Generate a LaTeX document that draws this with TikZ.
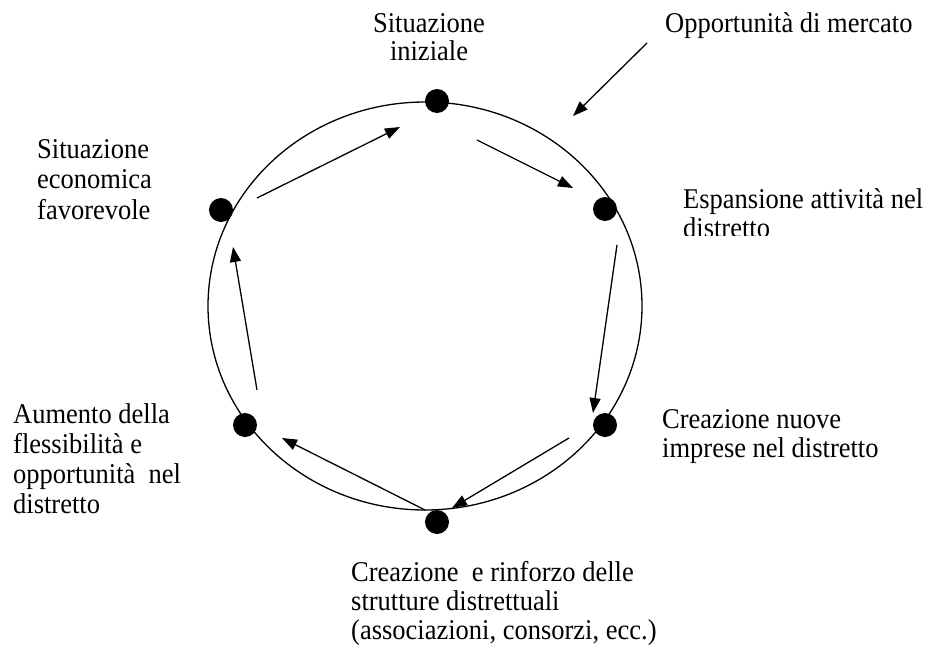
\documentclass[tikz,border=0pt]{standalone}
\usepackage{fontspec}
\usepackage{graphicx}
\setmainfont{Liberation Serif}
\usetikzlibrary{arrows.meta}
\newcommand\mylines[3]{\scalebox{1}[1.08]{\fontsize{26.5}{#1}\selectfont\begin{tabular}[t]{@{}#2@{}}#3\end{tabular}}}
\tikzset{
  dot/.style={circle,fill=black,inner sep=0pt,minimum size=24pt},
  lbl/.style={inner sep=0pt,anchor=base west},
  flow/.style={line width=1.3pt,-{Triangle[length=15pt,width=11pt]}},
  ring/.style={line width=1.3pt}
}
\begin{document}
\begin{tikzpicture}[x=1pt,y=-1pt]
\useasboundingbox (0,0) rectangle (930,664);
\fill[white] (0,0) rectangle (930,664);
% ring
\draw[ring] (425,306) ellipse [x radius=217, y radius=204];
% dots
\node[dot] (top) at (437,101) {};
\node[dot] (ur) at (605,209) {};
\node[dot] (lr) at (605,425) {};
\node[dot] (bot) at (437,522) {};
\node[dot] (ll) at (245,425) {};
\begin{scope}
\clip (209,180) rectangle (260,240);
\node[dot] (ul) at (221,210) {};
\end{scope}
% arrow end points
\coordinate (a1s) at (257,198); \coordinate (a1e) at (400,127);
\coordinate (a2s) at (477,140); \coordinate (a2e) at (573,188);
\coordinate (a3s) at (617,245); \coordinate (a3e) at (593,413);
\coordinate (a4s) at (569,438); \coordinate (a4e) at (452,508);
\coordinate (a5s) at (425,510); \coordinate (a5e) at (282,438);
\coordinate (a6s) at (257,390); \coordinate (a6e) at (233,247);
\coordinate (a7s) at (647,43);  \coordinate (a7e) at (573,116);
\draw[flow] (a1s) -- (a1e);
\draw[flow] (a2s) -- (a2e);
\draw[flow] (a3s) -- (a3e);
\draw[flow] (a4s) -- (a4e);
\draw[flow] (a5s) -- (a5e);
\draw[flow] (a6s) -- (a6e);
\draw[flow] (a7s) -- (a7e);
% labels
\node[inner sep=0pt,anchor=base] (tInit) at (429,32) {\mylines{26}{c}{Situazione\\iniziale}};
\node[lbl] (tOpp) at (665,32) {\mylines{27}{l}{Opportunità di mercato}};
\node[lbl] (tEco) at (37,158) {\mylines{28.7}{l}{Situazione\\economica\\favorevole}};
\begin{scope}
\clip (660,170) rectangle (930,235);
\node[lbl] (tEsp) at (683,208) {\mylines{26.9}{l}{Espansione attività nel\\distretto}};
\end{scope}
\node[lbl] (tAum) at (13,423) {\mylines{27.8}{l}{Aumento della\\flessibilità e\\opportunità~ nel\\distretto}};
\node[lbl] (tNuo) at (662,428) {\mylines{26.9}{l}{Creazione nuove\\imprese nel distretto}};
\node[lbl] (tStr) at (351,581) {\mylines{27.3}{l}{Creazione~ e rinforzo delle\\strutture distrettuali\\(associazioni, consorzi, ecc.)}};
\end{tikzpicture}
\end{document}
